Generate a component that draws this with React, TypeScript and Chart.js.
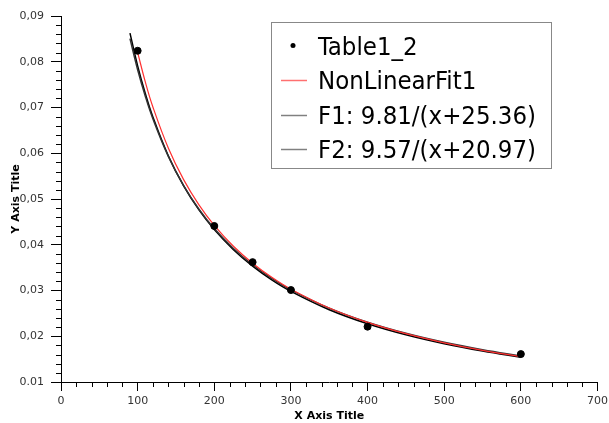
import React, { useEffect, useRef } from "react";
import { Chart, registerables } from "chart.js";

Chart.register(...registerables);

const pointX = [100, 200, 250, 300, 400, 600];
const pointY = [0.0824, 0.0441, 0.0362, 0.0301, 0.0221, 0.0161];

const fitX = [100, 110, 120, 140, 160, 180, 200, 225, 250, 275, 300, 350, 400, 450, 500, 550, 600];
const fitY = [0.08205, 0.07559, 0.07007, 0.06115, 0.05424, 0.04873, 0.04424, 0.03967, 0.03596, 0.03288, 0.03028, 0.02616, 0.02302, 0.02056, 0.01857, 0.01693, 0.01556];

const curveX = [90, 100, 110, 120, 140, 160, 180, 200, 225, 250, 275, 300, 350, 400, 450, 500, 550, 600];
const f1Y = [0.08504, 0.07825, 0.07247, 0.06749, 0.05933, 0.05292, 0.04777, 0.04353, 0.03918, 0.03563, 0.03266, 0.03015, 0.02614, 0.02306, 0.02064, 0.01867, 0.01705, 0.01569];
const f2Y = [0.08624, 0.07911, 0.07307, 0.06789, 0.05945, 0.05288, 0.04762, 0.04331, 0.03891, 0.03532, 0.03233, 0.02982, 0.0258, 0.02273, 0.02032, 0.01837, 0.01676, 0.01541];

const seriesLabels = ["Table1_2", "NonLinearFit1", "F1: 9.81/(x+25.36)", "F2: 9.57/(x+20.97)"];

const xMin = 0, xMax = 700, xMajor = 100, xMinor = 20;
const yMin = 0.01, yMax = 0.09, yMajor = 0.01, yMinor = 0.002;

const toXY = (xs: number[], ys: number[]) => xs.map((x, i) => ({ x, y: ys[i] }));

const minorTicks = {
  id: "minorTicks",
  afterDraw(chart: any) {
    const ctx = chart.ctx;
    const xs = chart.scales.x;
    const ys = chart.scales.y;
    ctx.save();
    ctx.strokeStyle = "#000";
    ctx.lineWidth = 1;
    ctx.beginPath();
    for (let v = xMin; v <= xMax + 1e-9; v += xMinor) {
      if (Math.abs(v / xMajor - Math.round(v / xMajor)) < 1e-6) continue;
      const px = Math.round(xs.getPixelForValue(v)) + 0.5;
      ctx.moveTo(px, xs.top);
      ctx.lineTo(px, xs.top + 5);
    }
    const n = Math.round((yMax - yMin) / yMinor);
    for (let i = 0; i <= n; i++) {
      if (i % 5 === 0) continue;
      const v = yMin + i * yMinor;
      const py = Math.round(ys.getPixelForValue(v)) + 0.5;
      ctx.moveTo(ys.right, py);
      ctx.lineTo(ys.right - 5, py);
    }
    ctx.stroke();
    ctx.restore();
  },
};

const boxLegend = {
  id: "boxLegend",
  afterDraw(chart: any) {
    const ctx = chart.ctx;
    const ds = chart.data.datasets;
    const left = 271.5, top = 22.5, w = 280, h = 146;
    ctx.save();
    ctx.fillStyle = "#fff";
    ctx.fillRect(left, top, w, h);
    ctx.strokeStyle = "#888";
    ctx.lineWidth = 1;
    ctx.strokeRect(left, top, w, h);
    ctx.font = "25.5px 'DejaVu Sans Condensed', 'DejaVu Sans'";
    ctx.textBaseline = "alphabetic";
    ctx.textAlign = "left";
    const baselines = [54.5, 88.5, 123.5, 158];
    ds.forEach((d: any, i: number) => {
      const b = baselines[i];
      const y = b - 9;
      if (i === 0) {
        ctx.fillStyle = "#000";
        ctx.beginPath();
        ctx.arc(293, y, 2.5, 0, Math.PI * 2);
        ctx.fill();
      } else {
        ctx.strokeStyle = i === 1 ? "#ff7070" : "#808080";
        ctx.lineWidth = 1.5;
        ctx.beginPath();
        ctx.moveTo(281, Math.round(y) + 0.5);
        ctx.lineTo(307, Math.round(y) + 0.5);
        ctx.stroke();
      }
      ctx.fillStyle = "#000";
      ctx.fillText(d.label, 318, b);
    });
    ctx.restore();
  },
};

export default function App() {
  const ref = useRef<HTMLCanvasElement>(null);
  useEffect(() => {
    if (!ref.current) return;
    const chart = new Chart(ref.current, {
      type: "scatter",
      data: {
        datasets: [
          {
            label: seriesLabels[0],
            data: toXY(pointX, pointY),
            pointRadius: 3.5,
            pointBackgroundColor: "#000",
            pointBorderColor: "#000",
            showLine: false,
          },
          {
            label: seriesLabels[1],
            data: toXY(fitX, fitY),
            showLine: true,
            pointRadius: 0,
            borderColor: "#ff3030",
            borderWidth: 1.2,
            tension: 0.4,
          },
          {
            label: seriesLabels[2],
            data: toXY(curveX, f1Y),
            showLine: true,
            pointRadius: 0,
            borderColor: "#333",
            borderWidth: 1.5,
            tension: 0.4,
          },
          {
            label: seriesLabels[3],
            data: toXY(curveX, f2Y),
            showLine: true,
            pointRadius: 0,
            borderColor: "#000",
            borderWidth: 1.5,
            tension: 0.4,
          },
        ],
      },
      options: {
        animation: false,
        responsive: true,
        maintainAspectRatio: false,
        layout: { padding: { top: 16, right: 11.5, left: 0, bottom: 0 } },
        plugins: { legend: { display: false }, tooltip: { enabled: false } },
        scales: {
          x: {
            type: "linear",
            min: xMin,
            max: xMax,
            afterFit: (s: any) => { s.height = 41; s.paddingLeft = 0; s.paddingRight = 0; },
            border: { display: true, color: "#000", width: 1 },
            grid: { drawOnChartArea: false, drawTicks: true, tickLength: 9, color: "#000" },
            ticks: {
              stepSize: xMajor,
              autoSkip: false,
              maxRotation: 0,
              padding: 4,
              color: "#333",
              font: { family: "'DejaVu Sans'", size: 11 },
            },
            title: {
              display: true,
              text: "X Axis Title",
              color: "#000",
              font: { family: "'DejaVu Sans'", size: 11, weight: "bold" },
              padding: { top: 0, bottom: 0 },
            },
          },
          y: {
            type: "linear",
            min: yMin,
            max: yMax,
            afterFit: (s: any) => { s.width = 61; s.paddingTop = 0; s.paddingBottom = 0; },
            border: { display: true, color: "#000", width: 1 },
            grid: { drawOnChartArea: false, drawTicks: true, tickLength: 10, color: "#000" },
            ticks: {
              stepSize: yMajor,
              autoSkip: false,
              padding: 7,
              color: "#333",
              font: { family: "'DejaVu Sans'", size: 11 },
              callback: (v: any) => {
                const n = Number(v);
                if (Math.abs(n - yMin) < 1e-9) return "0.01";
                return n.toFixed(2).replace(".", ",");
              },
            },
            title: {
              display: true,
              text: "Y Axis Title",
              color: "#000",
              font: { family: "'DejaVu Sans'", size: 11, weight: "bold" },
              padding: { top: 10, bottom: 0 },
            },
          },
        },
      },
      plugins: [minorTicks, boxLegend],
    });
    return () => chart.destroy();
  }, []);
  return (
    <div style={{ position: "fixed", left: 0, top: 0, width: 609, height: 423, background: "#fff" }}>
      <canvas ref={ref} />
    </div>
  );
}
